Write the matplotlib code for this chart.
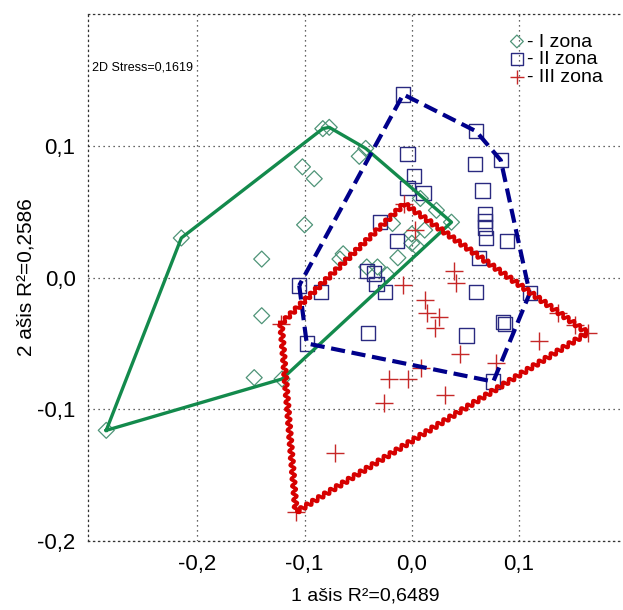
import numpy as np
import matplotlib
matplotlib.use('Agg')
import matplotlib.pyplot as plt
from matplotlib.ticker import FuncFormatter

plt.rcParams['font.family'] = ['Liberation Sans', 'DejaVu Sans']

# NMDS coordinates per zone
zone1_x = [-0.285, -0.215, -0.083, -0.077, -0.102, -0.091, -0.100, -0.140, -0.043, -0.049,
           0.008, 0.023, 0.037, -0.018, 0.012, 0.000, 0.000, 0.005, -0.013, -0.064,
           -0.067, -0.042, -0.032, -0.023, -0.140, -0.147, -0.121]
zone1_y = [-0.116, 0.030, 0.113, 0.114, 0.084, 0.075, 0.040, 0.014, 0.098, 0.092,
           0.060, 0.051, 0.042, 0.041, 0.036, 0.033, 0.026, 0.023, 0.015, 0.018,
           0.014, 0.008, 0.008, 0.002, -0.029, -0.076, -0.077]

zone2_x = [-0.008, 0.060, 0.083, -0.004, 0.002, -0.004, 0.011, 0.059, 0.066, 0.068,
           0.068, 0.068, 0.069, 0.089, 0.063, 0.060, 0.110, 0.085, 0.087, 0.051,
           0.076, -0.041, -0.085, -0.105, -0.098, -0.030, -0.014, -0.042, -0.035,
           -0.033, -0.025]
zone2_y = [0.139, 0.111, 0.089, 0.094, 0.077, 0.068, 0.064, 0.086, 0.066, 0.048,
           0.043, 0.038, 0.030, 0.028, 0.015, -0.011, -0.012, -0.034, -0.035, -0.044,
           -0.079, -0.042, -0.011, -0.006, -0.050, 0.042, 0.028, 0.005, 0.003,
           -0.005, -0.011]

zone3_x = [-0.007, 0.003, 0.039, 0.041, -0.008, 0.012, 0.014, 0.025, 0.022, 0.136,
           0.152, 0.164, 0.119, 0.045, 0.079, 0.009, -0.021, -0.004, 0.031, -0.026,
           -0.072, -0.108, -0.122]
zone3_y = [0.056, 0.036, 0.005, -0.004, -0.006, -0.017, -0.027, -0.030, -0.038, -0.027,
           -0.036, -0.042, -0.048, -0.058, -0.065, -0.069, -0.077, -0.077, -0.089, -0.095,
           -0.133, -0.178, -0.035]

labels = ['- I zona', '- II zona', '- III zona']
ticks_x = [-0.2, -0.1, 0.0, 0.1]
ticks_y = [-0.2, -0.1, 0.0, 0.1]


def hull(xs, ys):
    # monotone chain convex hull, returned closed
    pts = sorted(set(zip(xs, ys)))

    def cross(o, a, b):
        return (a[0] - o[0]) * (b[1] - o[1]) - (a[1] - o[1]) * (b[0] - o[0])

    lower, upper = [], []
    for p in pts:
        while len(lower) >= 2 and cross(lower[-2], lower[-1], p) <= 0:
            lower.pop()
        lower.append(p)
    for p in reversed(pts):
        while len(upper) >= 2 and cross(upper[-2], upper[-1], p) <= 0:
            upper.pop()
        upper.append(p)
    h = lower[:-1] + upper[:-1]
    h.append(h[0])
    return np.array(h)


fig = plt.figure(figsize=(6.23, 6.10), dpi=100)
ax = fig.add_axes([0.1413, 0.1131, 0.8587, 0.8639])

green_line = '#138a4c'
blue_line = '#00008b'
red_line = '#d60000'

# hulls
h1 = hull(zone1_x, zone1_y)
ax.plot(h1[:, 0], h1[:, 1], color=green_line, lw=2.4, zorder=3)

h2 = hull(zone2_x, zone2_y)
ax.plot(h2[:, 0], h2[:, 1], color=blue_line, lw=3.0, linestyle=(0, (3.4, 1.6)),
        dash_capstyle='butt', zorder=4)

h3 = hull(zone3_x, zone3_y)
l3, = ax.plot(h3[:, 0], h3[:, 1], color=red_line, lw=2.6, zorder=5)
l3.set_sketch_params(scale=2.2, length=7, randomness=1)

# points
ax.scatter(zone1_x, zone1_y, marker='D', s=66, facecolors='none',
           edgecolors='#4f9478', linewidths=0.9, zorder=2, label=labels[0])
ax.scatter(zone2_x, zone2_y, marker='s', s=105, facecolors='none',
           edgecolors='#2a2a80', linewidths=1.0, zorder=2, label=labels[1])
ax.scatter(zone3_x, zone3_y, marker='+', s=150, color='#c62828',
           linewidths=1.0, zorder=2, label=labels[2])

ax.set_xlim(-0.302, 0.197)
ax.set_ylim(-0.2, 0.2)
ax.set_xticks(ticks_x)
ax.set_yticks(ticks_y)
fmt = FuncFormatter(lambda v, p: f'{v:.1f}'.replace('.', ',').replace('-0,0', '0,0'))
ax.xaxis.set_major_formatter(fmt)
ax.yaxis.set_major_formatter(fmt)
ax.tick_params(length=0, labelsize=16, pad=9)

ax.grid(True, linestyle=(0, (1, 3)), color='#333333', lw=0.9)
for side in ['left', 'top', 'bottom']:
    ax.spines[side].set_linestyle((0, (1, 3)))
    ax.spines[side].set_color('#333333')
    ax.spines[side].set_linewidth(0.9)
ax.spines['right'].set_visible(False)

ax.set_xlabel('1 ašis R²=0,6489', fontsize=14)
ax.set_ylabel('2 ašis R²=0,2586', fontsize=15)
ax.xaxis.set_label_coords(0.518, -0.089)
ax.yaxis.set_label_coords(-0.098, 0.5)

ax.text(0.008, 0.899, '2D Stress=0,1619', transform=ax.transAxes,
        fontsize=9, va='center', ha='left')

leg = ax.legend(loc='upper left', bbox_to_anchor=(0.818, 0.946),
                bbox_transform=fig.transFigure, frameon=False, fontsize=14,
                handlelength=0.75, handletextpad=0.12, labelspacing=0.0,
                borderpad=0, borderaxespad=0, markerscale=0.8)

fig.savefig('out.png', dpi=100)
